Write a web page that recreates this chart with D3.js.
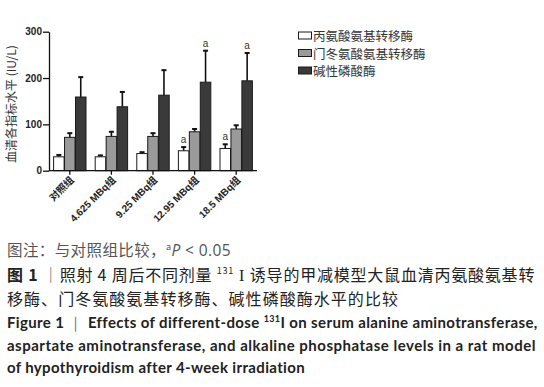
<!DOCTYPE html>
<html><head><meta charset="utf-8">
<script src="https://cdn.jsdelivr.net/npm/d3@7"></script>
<style>body{margin:0;background:#fff}svg{display:block}</style>
</head><body>
<script>
const categories = ["对照组", "4.625 MBq组", "9.25 MBq组", "12.95 MBq组", "18.5 MBq组"];
const seriesNames = ["丙氨酸氨基转移酶", "门冬氨酸氨基转移酶", "碱性磷酸酶"];
const altMean = [30, 30, 37, 43, 48];
const altErr  = [34, 33, 40, 51, 57];
const astMean = [72, 74, 74, 84, 90];
const astErr  = [81, 84, 81, 90, 98];
const alpMean = [159, 138, 163, 191, 194];
const alpErr  = [202, 170, 217, 259, 254];
const sigMarks = [[false,false,false],[false,false,false],[false,false,false],[true,false,true],[true,false,true]];
const yTicks = [0, 100, 200, 300];
const fills = ["#ffffff", "#9a9a9a", "#3a3a3a"];

const means = [altMean, astMean, alpMean];
const errs = [altErr, astErr, alpErr];

const W = 544, H = 387;
const svg = d3.select("body").append("svg").attr("width", W).attr("height", H);

const x0 = d3.scaleBand().domain(categories).range([49, 257]).paddingInner(0.2).paddingOuter(0.1);
const x1 = d3.scaleBand().domain(d3.range(3)).range([0, x0.bandwidth()]).padding(0.04);
const y = d3.scaleLinear().domain([0, 300]).range([170.7, 31.7]);

const g = svg.append("g");

categories.forEach((c, i) => {
  const gg = g.append("g").attr("transform", `translate(${x0(c)},0)`);
  d3.range(3).forEach(s => {
    const bx = x1(s), bw = x1.bandwidth();
    const cx = bx + bw / 2;
    gg.append("line").attr("x1", cx).attr("x2", cx).attr("y1", y(means[s][i])).attr("y2", y(errs[s][i]))
      .attr("stroke", "#111").attr("stroke-width", 1.6);
    gg.append("line").attr("x1", cx - 2.5).attr("x2", cx + 2.5).attr("y1", y(errs[s][i])).attr("y2", y(errs[s][i]))
      .attr("stroke", "#111").attr("stroke-width", 2);
    gg.append("rect").attr("x", bx).attr("width", bw).attr("y", y(means[s][i])).attr("height", y(0) - y(means[s][i]))
      .attr("fill", fills[s]).attr("stroke", "#1a1a1a").attr("stroke-width", 1);
    if (sigMarks[i][s]) {
      gg.append("text").attr("x", cx).attr("y", y(errs[s][i]) - 4).attr("text-anchor", "middle")
        .attr("font-family", "Liberation Sans, Arial, sans-serif").attr("font-size", 10).attr("fill", "#333").text("a");
    }
  });
});

const yAxis = d3.axisLeft(y).tickValues(yTicks).tickSize(6).tickPadding(1).tickSizeOuter(0);
const ya = svg.append("g").attr("transform", "translate(49,0)").call(yAxis);
ya.selectAll("path,line").attr("stroke", "#111").attr("stroke-width", 1.3);
ya.selectAll("text").attr("font-family", "Liberation Sans, Arial, sans-serif").attr("font-weight", "bold").attr("font-size", 10).attr("fill", "#222");

const xAxis = d3.axisBottom(x0).tickSize(4).tickSizeOuter(0).tickFormat("");
const xa = svg.append("g").attr("transform", `translate(0,${y(0)})`).call(xAxis);
xa.select("path").attr("d", `M49,0H257`);
xa.selectAll("path,line").attr("stroke", "#111").attr("stroke-width", 1.3);
categories.forEach(c => {
  const cx = x0(c) + x0.bandwidth() / 2;
  svg.append("text").attr("transform", `translate(${cx + 3},${y(0) + 8}) rotate(-45)`)
    .attr("text-anchor", "end").attr("dominant-baseline", "middle")
    .attr("font-family", "Liberation Sans, Arial, 'Noto Sans CJK SC', sans-serif").attr("font-weight", "bold")
    .attr("font-size", 10).attr("fill", "#222").text(c);
});

svg.append("text").attr("transform", "translate(16,104) rotate(-90)").attr("text-anchor", "middle")
  .attr("font-family", "'Noto Sans CJK SC', sans-serif").attr("font-size", 12).attr("fill", "#333")
  .text("血清各指标水平 (IU/L)");

const ly = [35.5, 53, 70.5];
seriesNames.forEach((n, s) => {
  svg.append("rect").attr("x", 298.5).attr("y", ly[s] - 3.5).attr("width", 13).attr("height", 7)
    .attr("fill", fills[s]).attr("stroke", "#1a1a1a").attr("stroke-width", 1);
  svg.append("text").attr("x", 313).attr("y", ly[s]).attr("dominant-baseline", "central")
    .attr("font-family", "'Noto Sans CJK SC', sans-serif").attr("font-size", 12.5).attr("fill", "#333").text(n);
});

function fit(sel, target) {
  const node = sel.node();
  const len = node.getComputedTextLength();
  const n = node.textContent.length;
  if (n > 1) sel.attr("letter-spacing", (target - len) / n);
}

const cjk = "'Noto Sans CJK SC', sans-serif";
const t1 = svg.append("text").attr("x", 7).attr("y", 256).attr("font-family", cjk).attr("font-size", 15.5).attr("fill", "#555");
t1.append("tspan").text("图注：与对照组比较，");
t1.append("tspan").attr("font-size", 9).attr("dy", -6).text("a");
t1.append("tspan").attr("dy", 6).attr("font-family", "Open Sans, sans-serif").attr("font-style", "italic").attr("font-size", 15.5).text("P");
t1.append("tspan").attr("font-family", "Open Sans, sans-serif").attr("font-size", 15.5).text(" < 0.05");
fit(t1, 224);

const t2 = svg.append("text").attr("x", 7).attr("y", 281).attr("font-family", cjk).attr("font-size", 16).attr("fill", "#222");
t2.append("tspan").attr("font-weight", "bold").text("图 1 ");
t2.append("tspan").attr("fill", "#666").text(" ｜");
t2.append("tspan").text("照射 4 周后不同剂量 ");
t2.append("tspan").attr("font-size", 9).attr("dy", -7).text("131");
t2.append("tspan").attr("dy", 7).attr("font-family", "Liberation Serif, serif").text(" I ");
t2.append("tspan").text("诱导的甲减模型大鼠血清丙氨酸氨基转");
fit(t2, 529);

const t3 = svg.append("text").attr("x", 7).attr("y", 305).attr("font-family", cjk).attr("font-size", 16).attr("fill", "#222")
  .text("移酶、门冬氨酸氨基转移酶、碱性磷酸酶水平的比较");
fit(t3, 392);

const en = "Lato, 'Open Sans', sans-serif";
const t4 = svg.append("text").attr("x", 7).attr("y", 327.5).attr("font-family", en).attr("font-weight", "bold").attr("font-size", 15).attr("fill", "#222");
t4.append("tspan").text("Figure 1 ");
t4.append("tspan").attr("font-weight", "normal").attr("fill", "#666").text(" ｜ ");
t4.append("tspan").text("Effects of different-dose ");
t4.append("tspan").attr("font-size", 9).attr("dy", -6).text("131");
t4.append("tspan").attr("dy", 6).text("I on serum alanine aminotransferase,");
fit(t4, 530);

const t5 = svg.append("text").attr("x", 7).attr("y", 350.5).attr("font-family", en).attr("font-weight", "bold").attr("font-size", 15).attr("fill", "#222")
  .text("aspartate aminotransferase, and alkaline phosphatase levels in a rat model");
fit(t5, 529);
const t6 = svg.append("text").attr("x", 7).attr("y", 373).attr("font-family", en).attr("font-weight", "bold").attr("font-size", 15).attr("fill", "#222")
  .text("of hypothyroidism after 4-week irradiation");
fit(t6, 298);
</script>
</body></html>
